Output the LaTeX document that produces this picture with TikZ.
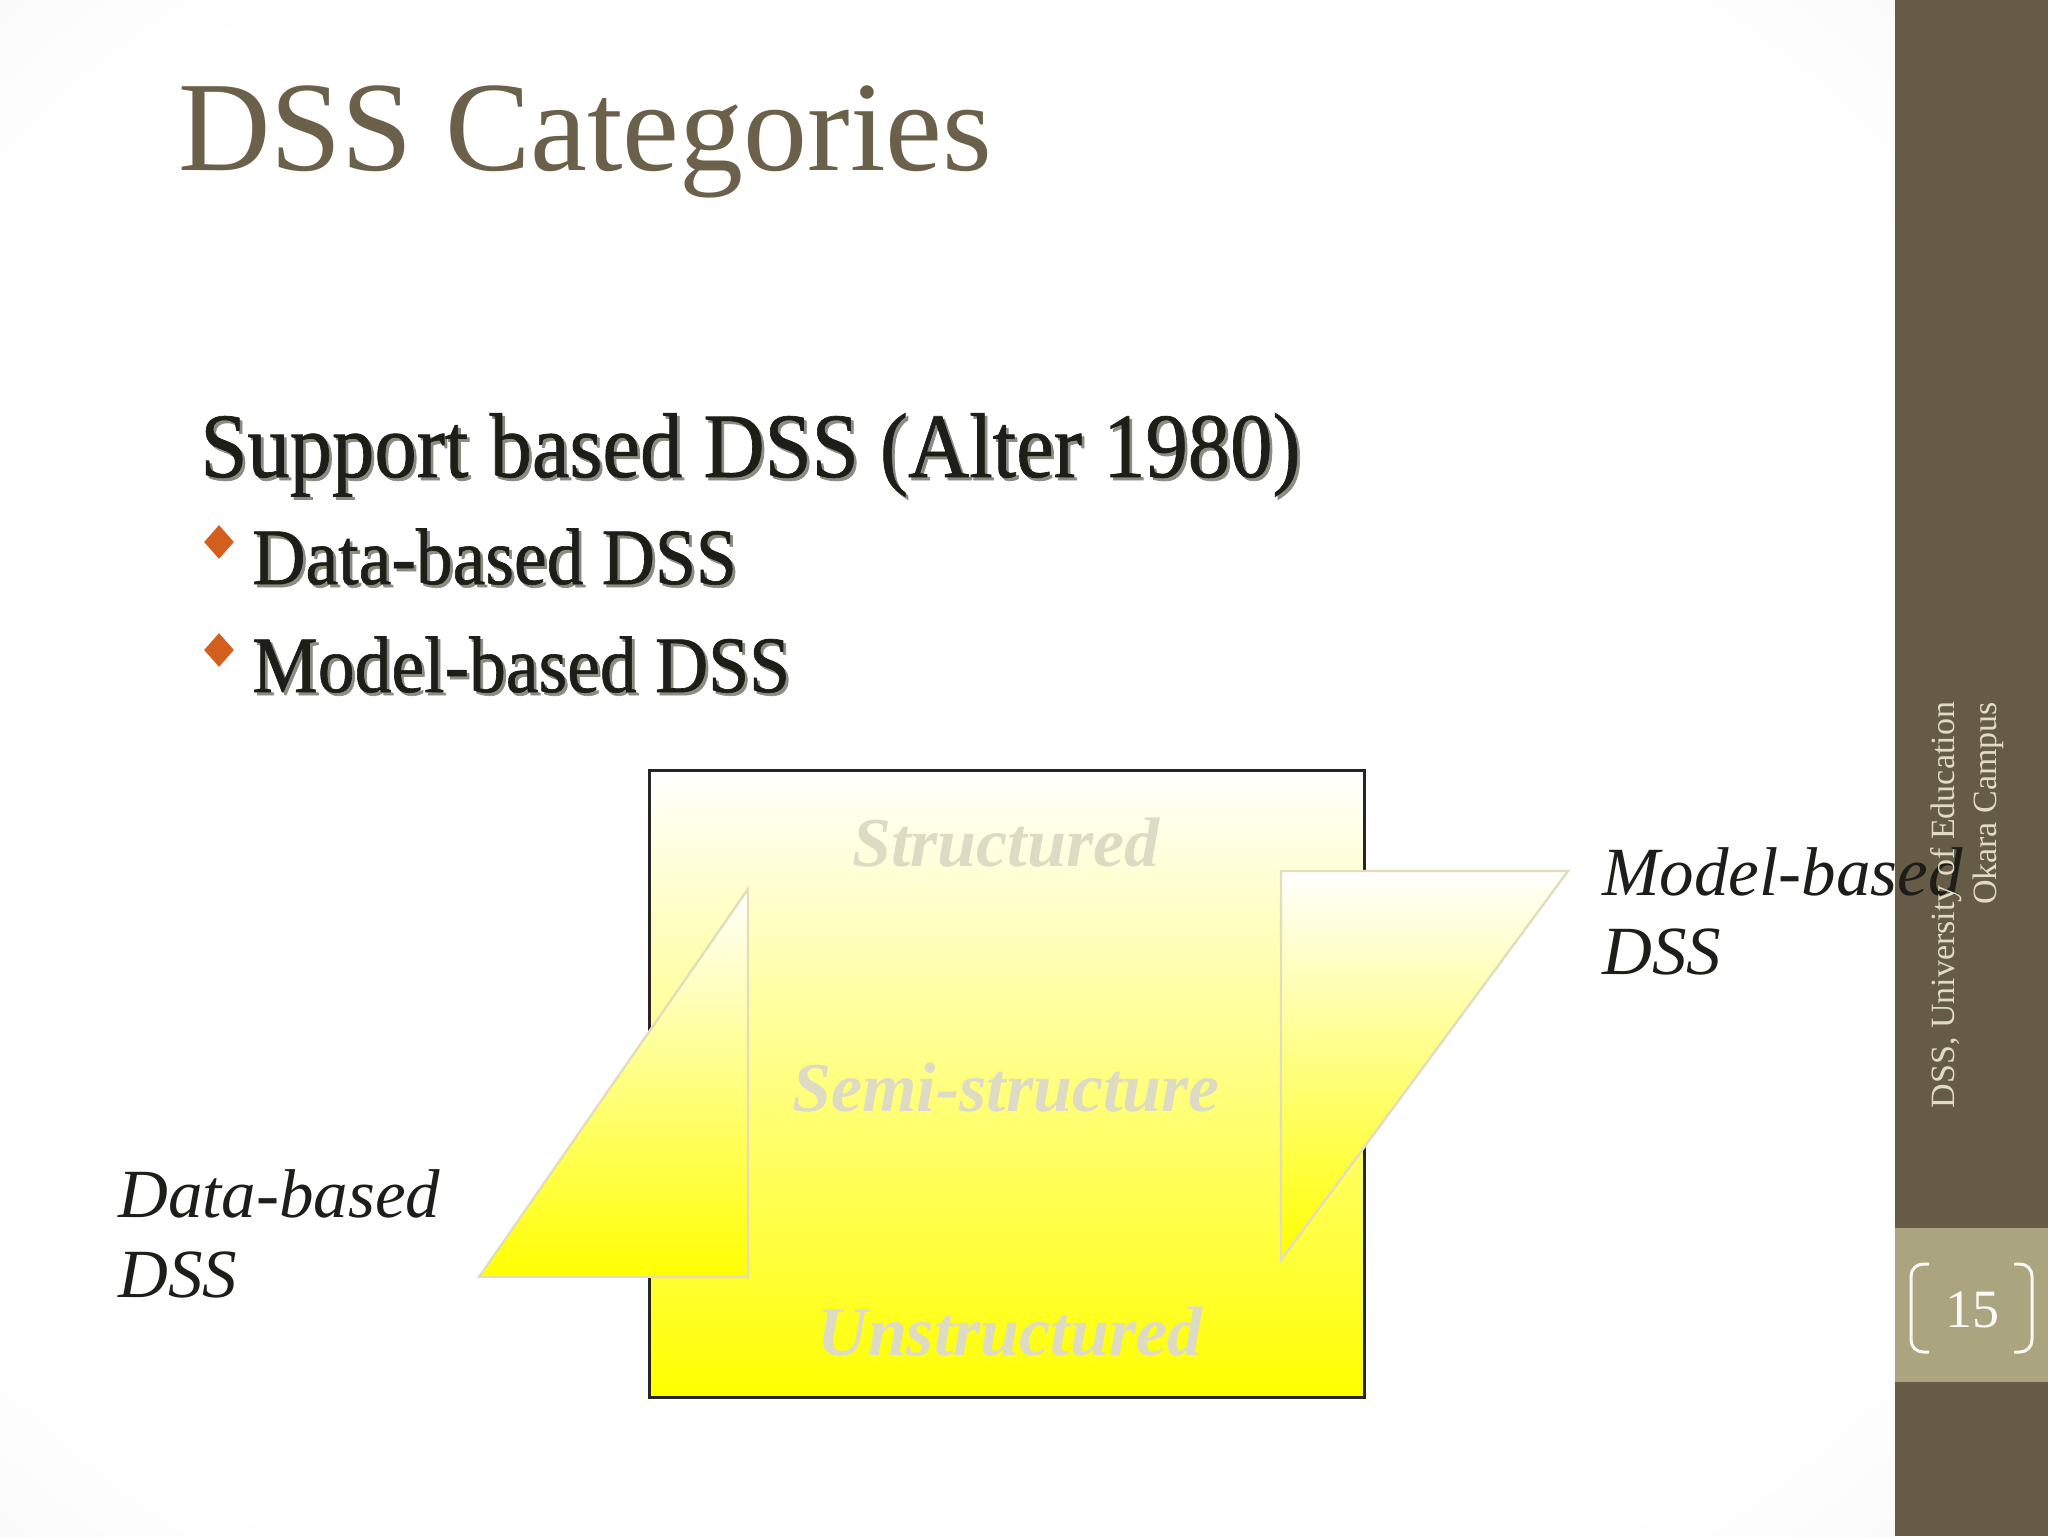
\documentclass[tikz,border=0pt]{standalone}
\usepackage{fontspec}
\setmainfont{Liberation Serif}
\usetikzlibrary{shapes.geometric}

\definecolor{barbrown}{RGB}{101,91,71}
\definecolor{barkhaki}{RGB}{170,165,127}
\definecolor{titlebrown}{RGB}{107,96,74}
\definecolor{footbeige}{RGB}{224,219,198}
\definecolor{bulletorange}{RGB}{210,95,30}
\definecolor{cellgray}{RGB}{222,219,196}
\definecolor{edgebeige}{RGB}{226,222,186}
\definecolor{inkdark}{RGB}{30,30,24}
\definecolor{shadowgray}{RGB}{140,140,130}

\pgfdeclareradialshading{slidebg}{\pgfpoint{0bp}{0bp}}{color(0bp)=(white); color(30bp)=(white); color(72bp)=(black!12)}

\newcommand\narrowtext[1]{\scalebox{0.92}[1]{#1}}
\newcommand\embossed[1]{\makebox[0pt][l]{\kern1.5pt\raisebox{-1.5pt}{\color{shadowgray}#1}}#1}

\begin{document}
\begin{tikzpicture}[x=0.5pt,y=-0.5pt,
    titletext/.style={anchor=base west,inner sep=0pt,text=titlebrown,
      font=\fontsize{64}{70}\selectfont},
    headtext/.style={anchor=base west,inner sep=0pt,text=inkdark,
      font=\fontsize{46}{50}\selectfont\addfontfeatures{FakeBold=0.8}},
    itemtext/.style={anchor=base west,inner sep=0pt,text=inkdark,
      font=\fontsize{40}{44}\selectfont\addfontfeatures{FakeBold=0.8}},
    itembullet/.style={diamond,fill=bulletorange,inner sep=0pt,
      minimum width=15pt,minimum height=17pt},
    celltext/.style={anchor=base,inner sep=0pt,text=cellgray,
      font=\fontsize{35}{40}\selectfont\bfseries\itshape},
    sidetext/.style={anchor=base west,inner sep=0pt,text=inkdark,
      font=\fontsize{34.5}{40}\selectfont\itshape},
    yellowfill/.style={top color=white,bottom color=yellow},
    foottext/.style={text=footbeige,rotate=90,align=right,inner sep=0pt,
      font=\fontsize{17}{21}\selectfont}]
  \useasboundingbox (0,0) rectangle (2048,1536);

  % slide background and side bar
  \shade[shading=slidebg] (0,0) rectangle (1895,1536);
  \fill[barbrown] (1895,0) rectangle (2048,1536);
  \fill[barkhaki] (1895,1228) rectangle (2048,1382);

  \node[titletext] (title) at (178,170) {DSS Categories};

  \node[headtext] (head) at (200,477) {\narrowtext{\embossed{Support based DSS (Alter 1980)}}};
  \node[itembullet] (b1) at (219,542) {};
  \node[itemtext] (item1) at (252,584) {\narrowtext{\embossed{Data-based DSS}}};
  \node[itembullet] (b2) at (219,650) {};
  \node[itemtext] (item2) at (252,692) {\narrowtext{\embossed{Model-based DSS}}};

  % problem structure box
  \shadedraw[yellowfill,draw=black!85,line width=1.5pt] (649,770) rectangle (1364,1397);
  \shadedraw[yellowfill,draw=edgebeige,line width=1.2pt]
    (748,889) -- (748,1277) -- (479,1277) -- cycle;
  \shadedraw[yellowfill,draw=edgebeige,line width=1.2pt]
    (1281,871) -- (1568,871) -- (1281,1260) -- cycle;

  \node[celltext] (structured) at (1006,866) {Structured};
  \node[celltext] (semi) at (1006,1111) {Semi-structure};
  \node[celltext] (unstructured) at (1010,1355) {Unstructured};

  \node[sidetext] (data1) at (118,1217) {Data-based};
  \node[sidetext] (data2) at (118,1297) {DSS};
  \node[sidetext] (model1) at (1602,895) {Model-based};
  \node[sidetext] (model2) at (1602,974) {DSS};

  % footer
  \node[foottext] (foot) at (1967,905) {DSS, University of Education\\Okara Campus};
  \draw[white!92!barkhaki,line width=1.5pt,rounded corners=6pt]
    (1929,1264) -- (1911,1264) -- (1911,1352) -- (1929,1352);
  \draw[white!92!barkhaki,line width=1.5pt,rounded corners=6pt]
    (2014,1264) -- (2032,1264) -- (2032,1352) -- (2014,1352);
  \node[text=white!95!barkhaki,font=\fontsize{27}{30}\selectfont] (page) at (1972,1310) {15};
\end{tikzpicture}
\end{document}
